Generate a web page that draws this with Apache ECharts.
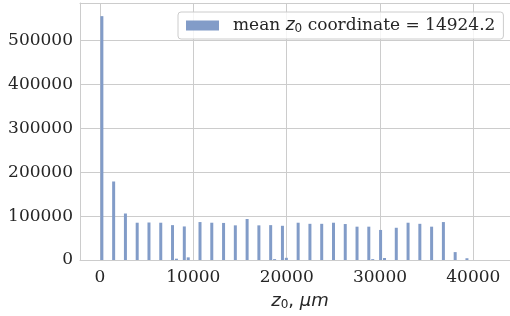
<!DOCTYPE html>
<html>
<head>
<meta charset="utf-8">
<script src="https://cdn.jsdelivr.net/npm/echarts@6/dist/echarts.min.js"></script>
<style>html,body{margin:0;padding:0;background:#fff;overflow:hidden}#c{width:510px;height:316px}</style>
</head>
<body>
<div id="c"></div>
<script>
// Histogram bin centres (z0, um) of the non-empty bins
const binCenters = [200, 1462, 2724, 3985, 5247, 6509, 7771, 8191, 9033, 9453,
  10715, 11977, 13239, 14500, 15762, 17024, 18286, 18706, 19548, 19968,
  21230, 22492, 23754, 25015, 26277, 27539, 28801, 29221, 30063, 30483,
  31745, 33007, 34269, 35530, 36792, 38054, 39316];
// Counts per bin
const counts = [556000, 179000, 106000, 85000, 85500, 85000, 79500, 3000, 76500, 6000,
  86500, 85000, 84500, 79000, 93500, 79000, 79500, 2000, 78000, 5000,
  85000, 82500, 82500, 85000, 82000, 76000, 76000, 2000, 68500, 4500,
  73500, 85000, 82500, 76000, 86500, 18000, 4000];
const xTickLabels = [0, 10000, 20000, 30000, 40000];
const yTickLabels = [0, 100000, 200000, 300000, 400000, 500000];
const legendLabel = 'mean z0 coordinate = 14924.2';

const chart = echarts.init(document.getElementById('c'), null, {renderer: 'canvas'});
const txt = '#262626';
const serif = 'DejaVu Serif';
const spine = {show: true, onZero: false, lineStyle: {color: '#cccccc', width: 1}};
chart.setOption({
  animation: false,
  backgroundColor: '#fff',
  grid: {left: 80, top: 3, width: 440, height: 257, show: false, containLabel: false, outerBoundsMode: 'none'},
  legend: {
    left: 178, top: 12,
    data: [legendLabel],
    icon: 'rect', itemWidth: 33, itemHeight: 10,
    padding: [4, 8, 4, 8],
    borderColor: '#cccccc', borderWidth: 1, borderRadius: 3,
    backgroundColor: 'rgba(255,255,255,0.8)',
    formatter: () => '{g|}{a|mean }{i|z}{s|0}{a| coordinate = 14924.2}',
    textStyle: {
      color: txt, fontFamily: serif, fontSize: 17,
      rich: {
        g: {width: 9},
        a: {fontFamily: serif, fontSize: 17, color: txt, lineHeight: 20},
        i: {fontFamily: 'DejaVu Sans', fontStyle: 'italic', fontSize: 17, color: txt, lineHeight: 20},
        s: {fontFamily: 'DejaVu Sans', fontSize: 12, color: txt, lineHeight: 20, padding: [7, 0, 0, 0]}
      }
    }
  },
  xAxis: [{
    type: 'value', min: -2143, max: 45000,
    splitLine: {show: true, lineStyle: {color: '#cccccc', width: 1}},
    axisLine: spine, axisTick: {show: false, customValues: xTickLabels},
    axisLabel: {customValues: xTickLabels, color: txt, fontFamily: serif, fontSize: 17, margin: 9,
      formatter: v => String(v)},
    name: '{i|z}{s|0}{a|, }{i|μm}',
    nameLocation: 'middle', nameGap: 29,
    nameTextStyle: {
      color: txt,
      rich: {
        i: {fontFamily: 'DejaVu Sans', fontStyle: 'italic', fontSize: 18, color: txt, lineHeight: 22},
        a: {fontFamily: 'DejaVu Sans', fontSize: 18, color: txt, lineHeight: 22},
        s: {fontFamily: 'DejaVu Sans', fontSize: 12, color: txt, lineHeight: 22, padding: [8, 0, 0, 0]}
      }
    }
  }, {
    type: 'value', position: 'top', min: -2143, max: 45000,
    axisLine: spine, axisTick: {show: false}, axisLabel: {show: false}, splitLine: {show: false}
  }],
  yAxis: {
    type: 'value', min: 0, max: 585960, interval: 100000,
    splitLine: {show: true, lineStyle: {color: '#cccccc', width: 1}},
    axisLine: spine, axisTick: {show: false},
    axisLabel: {
      color: txt, fontFamily: serif, fontSize: 17, margin: 7,
      formatter: v => (yTickLabels.indexOf(v) >= 0 ? String(v) : '')
    }
  },
  series: [
    {
      name: legendLabel, type: 'bar', z: 2,
      barWidth: 3,
      itemStyle: {color: '#829cc8'},
      data: binCenters.map((x, i) => [x, counts[i]])
    }
  ]
});
</script>
</body>
</html>
